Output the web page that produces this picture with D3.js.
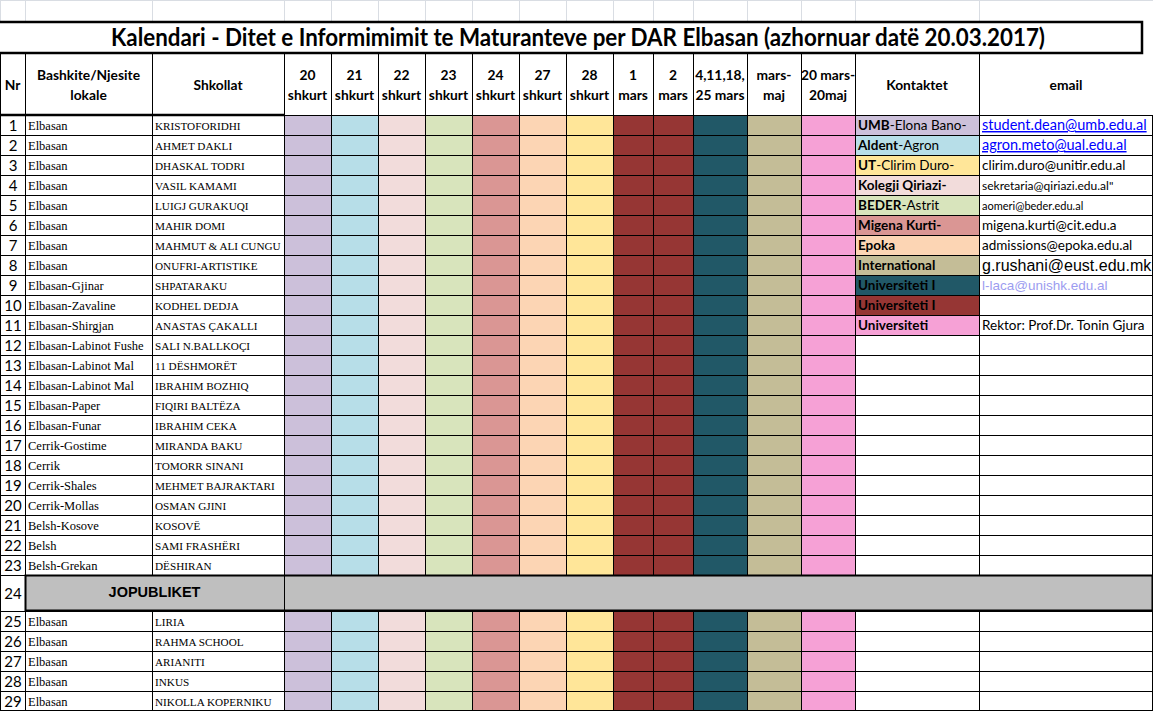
<!DOCTYPE html>
<html>
<head>
<meta charset="utf-8">
<script src="https://cdn.jsdelivr.net/npm/d3@7"></script>
<style>
  body { margin: 0; background: #fff; }
  svg { display: block; }
  .hdr { font-family: Lato, "Open Sans", sans-serif; font-weight: 700; font-size: 13.8px; fill: #000; }
  .title { font-family: Lato, "Open Sans", sans-serif; font-weight: 700; font-size: 24px; fill: #000; }
  .num { font-family: Lato, "Open Sans", sans-serif; font-size: 15px; fill: #000; }
  .serif { font-family: "Liberation Serif", "DejaVu Serif", serif; font-size: 12.5px; fill: #000; }
  .school { font-size: 11.2px; }
  .contact { font-family: Lato, "Open Sans", sans-serif; font-size: 13.5px; fill: #000; }
</style>
</head>
<body>
<svg id="sheet" width="1153" height="713"></svg>
<script>
/* ── Data ─────────────────────────────────────────────────────────────────── */

const TITLE = "Kalendari - Ditet e Informimimit te Maturanteve per DAR Elbasan (azhornuar datë 20.03.2017)";

const rowNumbers = [1, 2, 3, 4, 5, 6, 7, 8, 9, 10, 11, 12, 13, 14, 15, 16, 17, 18, 19, 20,
  21, 22, 23, 24, 25, 26, 27, 28, 29];

const publicMunicipalities = ["Elbasan", "Elbasan", "Elbasan", "Elbasan", "Elbasan", "Elbasan",
  "Elbasan", "Elbasan", "Elbasan-Gjinar", "Elbasan-Zavaline", "Elbasan-Shirgjan",
  "Elbasan-Labinot Fushe", "Elbasan-Labinot Mal", "Elbasan-Labinot Mal", "Elbasan-Paper",
  "Elbasan-Funar", "Cerrik-Gostime", "Cerrik", "Cerrik-Shales", "Cerrik-Mollas",
  "Belsh-Kosove", "Belsh", "Belsh-Grekan"];

const publicSchools = ["KRISTOFORIDHI", "AHMET DAKLI", "DHASKAL TODRI", "VASIL KAMAMI",
  "LUIGJ GURAKUQI", "MAHIR DOMI", "MAHMUT & ALI CUNGU", "ONUFRI-ARTISTIKE", "SHPATARAKU",
  "KODHEL DEDJA", "ANASTAS ÇAKALLI", "SALI N.BALLKOÇI", "11 DËSHMORËT", "IBRAHIM BOZHIQ",
  "FIQIRI BALTËZA", "IBRAHIM CEKA", "MIRANDA BAKU", "TOMORR SINANI", "MEHMET BAJRAKTARI",
  "OSMAN GJINI", "KOSOVË", "SAMI FRASHËRI", "DËSHIRAN"];

const separatorLabel = "JOPUBLIKET";

const privateMunicipalities = ["Elbasan", "Elbasan", "Elbasan", "Elbasan", "Elbasan"];
const privateSchools = ["LIRIA", "RAHMA SCHOOL", "ARIANITI", "INKUS", "NIKOLLA KOPERNIKU"];

const dateKeys = ["20sh", "21sh", "22sh", "23sh", "24sh", "27sh", "28sh", "1m", "2m", "4m", "mm", "20m"];
const dateHeaders = [["20", "shkurt"], ["21", "shkurt"], ["22", "shkurt"], ["23", "shkurt"],
  ["24", "shkurt"], ["27", "shkurt"], ["28", "shkurt"], ["1", "mars"], ["2", "mars"],
  ["4,11,18,", "25 mars"], ["mars-", "maj"], ["20 mars-", "20maj"]];
const dateColors = ["#ccc0da", "#b7dee8", "#f2dcdb", "#d8e4bc", "#da9694", "#fcd5b4",
  "#ffe699", "#963634", "#963634", "#215867", "#c4bd97", "#f6a1d6"];

const contactBold = ["UMB", "Aldent", "UT", "Kolegji Qiriazi-", "BEDER", "Migena Kurti-",
  "Epoka", "International", "Universiteti I", "Universiteti I", "Universiteti"];
const contactRest = ["-Elona Bano-", "-Agron", "-Clirim Duro-", "", "-Astrit", "", "", "", "", "", ""];
const contactKeys = ["20sh", "21sh", "28sh", "22sh", "23sh", "24sh", "27sh", "mm", "4m", "1m", "20m"];

const emails = ["student.dean@umb.edu.al", "agron.meto@ual.edu.al", "clirim.duro@unitir.edu.al",
  "sekretaria@qiriazi.edu.al\"", "aomeri@beder.edu.al", "migena.kurti@cit.edu.a",
  "admissions@epoka.edu.al", "g.rushani@eust.edu.mk", "l-laca@unishk.edu.al", "",
  "Rektor: Prof.Dr. Tonin Gjura"];
const emailStyle = ["link", "link", "plain", "small", "tiny", "plain", "plain", "arialBig", "arialLight", "plain", "plain"];

/* ── Layout ───────────────────────────────────────────────────────────────── */

const colWidths = [25, 127, 132, 47, 47, 47, 47, 47, 47, 47, 40, 40, 54, 54, 54, 124, 174];
const xEdge = [0, ...d3.cumsum(colWidths)];
const RIGHT = 1152.5;
const TITLE_TOP = 21, TITLE_BOT = 53, HEAD_BOT = 115;
const ROW_H = 20, SEP_H = 36;

const rows = [
  ...publicSchools.map((s, i) => ({ type: "row", muni: publicMunicipalities[i], school: s })),
  { type: "sep", label: separatorLabel },
  ...privateSchools.map((s, i) => ({ type: "row", muni: privateMunicipalities[i], school: s })),
];
let yAcc = HEAD_BOT;
rows.forEach((r, i) => {
  r.nr = rowNumbers[i];
  r.y0 = yAcc;
  r.h = r.type === "sep" ? SEP_H : ROW_H;
  yAcc += r.h;
});
const BOTTOM = yAcc;

const color = d3.scaleOrdinal().domain(dateKeys).range(dateColors);
const dateCol = d3.scaleOrdinal().domain(dateKeys).range(d3.range(3, 15));

const svg = d3.select("#sheet");
svg.append("rect").attr("width", 1153).attr("height", 713).attr("fill", "#fff");

/* ── Excel gridlines in the blank top row ─────────────────────────────────── */

const grid = svg.append("g").attr("stroke", "#d9dde3").attr("stroke-width", 1);
xEdge.slice(0, -1).forEach((x) => {
  grid.append("line").attr("x1", x + 0.5).attr("x2", x + 0.5).attr("y1", 0).attr("y2", TITLE_TOP);
});
grid.append("line").attr("x1", 0).attr("x2", 1153).attr("y1", 0.5).attr("y2", 0.5);

/* ── Cell fills ───────────────────────────────────────────────────────────── */

const fills = svg.append("g");
rows.forEach((r, i) => {
  if (r.type === "sep") {
    fills.append("rect").attr("x", xEdge[1]).attr("y", r.y0)
      .attr("width", RIGHT - xEdge[1]).attr("height", r.h).attr("fill", "#bfbfbf");
    return;
  }
  dateKeys.forEach((k) => {
    const c = dateCol(k);
    fills.append("rect").attr("x", xEdge[c]).attr("y", r.y0)
      .attr("width", xEdge[c + 1] - xEdge[c]).attr("height", r.h).attr("fill", color(k));
  });
  if (i < contactKeys.length) {
    fills.append("rect").attr("x", xEdge[15]).attr("y", r.y0)
      .attr("width", xEdge[16] - xEdge[15]).attr("height", r.h).attr("fill", color(contactKeys[i]));
  }
});

/* ── Borders ──────────────────────────────────────────────────────────────── */

const lines = svg.append("g").attr("stroke", "#000").attr("stroke-width", 1).attr("shape-rendering", "crispEdges");
// verticals
xEdge.forEach((x, c) => {
  const xx = c === xEdge.length - 1 ? RIGHT : x + 0.5;
  if (c === xEdge.length - 1) {
    lines.append("line").attr("x1", xx).attr("x2", xx).attr("y1", HEAD_BOT).attr("y2", BOTTOM);
    return;
  }
  rows.forEach((r) => {
    if (r.type === "sep" && c !== 0 && c !== 1 && c !== 3) return;
    lines.append("line").attr("x1", xx).attr("x2", xx).attr("y1", r.y0).attr("y2", r.y0 + r.h);
  });
  if (c > 0) lines.append("line").attr("x1", xx).attr("x2", xx).attr("y1", TITLE_BOT).attr("y2", HEAD_BOT);
});
lines.append("line").attr("x1", 0.5).attr("x2", 0.5).attr("y1", TITLE_BOT).attr("y2", HEAD_BOT);
// horizontals
rows.forEach((r) => {
  lines.append("line").attr("x1", 0).attr("x2", RIGHT).attr("y1", r.y0 + 0.5).attr("y2", r.y0 + 0.5);
});
lines.append("line").attr("x1", 0).attr("x2", RIGHT).attr("y1", BOTTOM - 0.5).attr("y2", BOTTOM - 0.5);

const thick = svg.append("g").attr("stroke", "#000").attr("stroke-width", 2.5).attr("fill", "none");
thick.append("rect").attr("x", -2).attr("y", TITLE_TOP + 1).attr("width", 1144).attr("height", TITLE_BOT - TITLE_TOP - 1);
thick.append("line").attr("x1", 0).attr("x2", xEdge[3]).attr("y1", HEAD_BOT).attr("y2", HEAD_BOT);
const sepRow = rows.find((r) => r.type === "sep");
thick.append("rect").attr("x", xEdge[1] + 0.5).attr("y", sepRow.y0 + 0.5)
  .attr("width", RIGHT - xEdge[1] - 0.5).attr("height", sepRow.h - 1).attr("stroke-width", 2);

/* ── Title + header texts ─────────────────────────────────────────────────── */

svg.append("text").attr("class", "title")
  .attr("x", 578).attr("y", 46).attr("text-anchor", "middle")
  .attr("textLength", 934).attr("lengthAdjust", "spacingAndGlyphs")
  .text(TITLE);

const mid = (c) => (xEdge[c] + xEdge[c + 1]) / 2;
const headerSingle = [[0, "Nr"], [2, "Shkollat"], [15, "Kontaktet"], [16, "email"]];
headerSingle.forEach(([c, t]) => {
  svg.append("text").attr("class", "hdr").attr("x", mid(c)).attr("y", 90)
    .attr("text-anchor", "middle").text(t);
});
const headerTwo = [[1, ["Bashkite/Njesite", "lokale"]],
  ...dateKeys.map((k, i) => [dateCol(k), dateHeaders[i]])];
headerTwo.forEach(([c, [a, b]]) => {
  const t = svg.append("text").attr("class", "hdr").attr("text-anchor", "middle");
  t.append("tspan").attr("x", mid(c)).attr("y", 80).text(a);
  t.append("tspan").attr("x", mid(c)).attr("y", 100).text(b);
});

/* ── Body texts ───────────────────────────────────────────────────────────── */

rows.forEach((r, i) => {
  const cy = r.y0 + r.h / 2;
  svg.append("text").attr("class", "num").attr("x", 13).attr("y", cy + 5.5)
    .attr("text-anchor", "middle").text(r.nr);
  if (r.type === "sep") {
    svg.append("text").attr("x", (xEdge[1] + xEdge[3]) / 2).attr("y", cy + 4)
      .attr("text-anchor", "middle").attr("font-family", "Liberation Sans, Arial, sans-serif")
      .attr("font-weight", 700).attr("font-size", 14.5).text(r.label);
    return;
  }
  svg.append("text").attr("class", "serif").attr("x", xEdge[1] + 3).attr("y", cy + 4.5).text(r.muni);
  svg.append("text").attr("class", "serif school").attr("x", xEdge[2] + 3).attr("y", cy + 4.5).text(r.school);

  if (i < contactBold.length) {
    const t = svg.append("text").attr("class", "contact").attr("x", xEdge[15] + 3).attr("y", cy + 5);
    t.append("tspan").attr("font-weight", 700).text(contactBold[i]);
    if (contactRest[i]) t.append("tspan").text(contactRest[i]);

    const st = emailStyle[i];
    const e = svg.append("text").attr("x", xEdge[16] + 3).attr("y", cy + 5).text(emails[i])
      .attr("font-family", "Lato, 'Open Sans', sans-serif").attr("font-size", 13.5).attr("fill", "#000");
    if (st === "link") e.attr("fill", "#0000ff").attr("font-size", 14.5).style("text-decoration", "underline");
    if (st === "small") e.attr("font-size", 12);
    if (st === "tiny") e.attr("font-size", 11);
    if (st === "arialBig") e.attr("font-family", "Liberation Sans, Arial, sans-serif").attr("font-size", 16).attr("y", cy + 6);
    if (st === "arialLight") e.attr("font-family", "Liberation Sans, Arial, sans-serif").attr("font-size", 13.5).attr("fill", "#9c9cf0");
  }
});
</script>
</body>
</html>
